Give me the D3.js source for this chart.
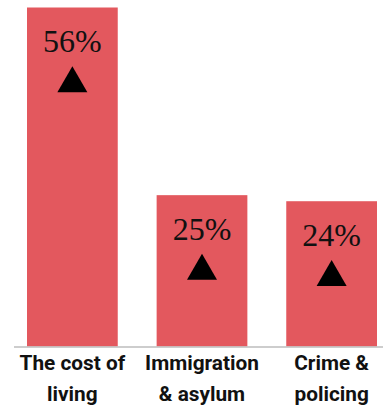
<!DOCTYPE html>
<html><head><meta charset="utf-8">
<script src="https://cdn.jsdelivr.net/npm/d3@7"></script>
<style>html,body{margin:0;padding:0;background:#fff;}</style>
</head><body>
<script>
const categories = [["The cost of","living"],["Immigration","& asylum"],["Crime &","policing"]];
const values = [56, 25, 24];
const valueLabels = ["56%","25%","24%"];

const W = 383, H = 406;
const svg = d3.select("body").append("svg").attr("width", W).attr("height", H);
const baseY = 346.5;
const x = d3.scaleBand().domain(d3.range(values.length)).range([27, 377]).paddingInner(0.3).paddingOuter(0);
const y = d3.scaleLinear().domain([0, 56]).range([baseY, 7.5]);

svg.selectAll("rect.bar").data(values).join("rect").attr("class","bar")
  .attr("x",(d,i)=>x(i)).attr("width",x.bandwidth())
  .attr("y",d=>y(d)).attr("height",d=>baseY-y(d)).attr("fill","#e3585e");

svg.append("line").attr("x1",14).attr("x2",W).attr("y1",baseY+0.5).attr("y2",baseY+0.5)
  .attr("stroke","#bdbdbd").attr("stroke-width",1.5);

svg.selectAll("text.val").data(values).join("text").attr("class","val")
  .attr("x",(d,i)=>x(i)+x.bandwidth()/2).attr("y",d=>y(d)+44.5)
  .attr("text-anchor","middle").attr("font-family","'Liberation Serif', serif")
  .attr("font-size",32).attr("fill","#111").text((d,i)=>valueLabels[i]);

const tri = d3.symbol().type(d3.symbolTriangle).size(390);
svg.selectAll("path.tri").data(values).join("path").attr("class","tri")
  .attr("d",tri)
  .attr("transform",(d,i)=>`translate(${x(i)+x.bandwidth()/2},${y(d)+76})`)
  .attr("fill","#000");

const lab = svg.selectAll("text.cat").data(categories).join("text").attr("class","cat")
  .attr("text-anchor","middle").attr("font-family","Roboto, sans-serif").attr("font-weight","bold")
  .attr("font-size",20.8).attr("fill","#111");
lab.selectAll("tspan").data((d,i)=>d.map(t=>({t,i}))).join("tspan")
  .attr("x",d=>x(d.i)+x.bandwidth()/2).attr("y",(d,j)=>369.5+j*31.5).text(d=>d.t);
</script>
</body></html>
